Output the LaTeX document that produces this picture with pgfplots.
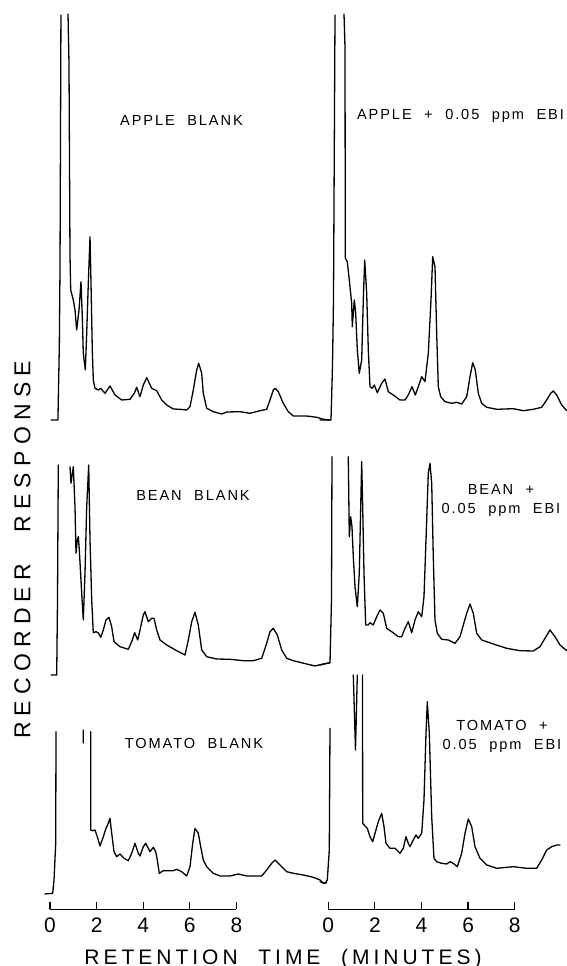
\documentclass[border=0pt]{standalone}
\usepackage{fontspec}
\setmainfont{Liberation Sans}
\newfontfamily\lblfont[LetterSpace=13,WordSpace=2.1]{Liberation Sans}
\newfontfamily\xlabfont[LetterSpace=19,WordSpace=2.1]{Liberation Sans}
\newfontfamily\ylabfont[LetterSpace=27,WordSpace=2.5]{Liberation Sans}
\usepackage{pgfplots}
\pgfplotsset{compat=1.18}

% x: retention time (min), y: recorder response (traces stacked with an offset)
\pgfplotsset{
  chrom/.style={
    x=11.65pt, y=0.5pt, ymin=56.5, ymax=966, anchor=south west,
    axis x line*=bottom, axis y line=none, x axis line style={draw=none},
    xtick={0,2,4,6,8}, xticklabels={0,2,4,6,8}, ytick=\empty,
    xtick align=inside, major tick length=3.5pt,
    tick style={black, line width=0.6pt},
    xticklabel style={font=\fontsize{10.5}{12}\selectfont, anchor=center, yshift=-8pt},
    clip=false, unbounded coords=jump,
  },
  trace/.style={black, line width=0.65pt, line join=round, line cap=round, mark=none},
}
\tikzset{lbl/.style={font=\lblfont\fontsize{7.3}{9.5}\selectfont, align=center, inner sep=0pt}}

\begin{document}
\begin{tikzpicture}
% ---------------- left column: blanks ----------------
\begin{axis}[chrom, name=L, at={(0pt,28.25pt)}, xmin=-2.146, xmax=12.06]
% scale bar
\addplot[black, line width=0.6pt] coordinates {(0,56.5) (8,56.5)};
% apple blank
\addplot[trace] coordinates {
(0.04,546) (0.34,546) (0.40,620) (0.43,700) (0.47,951) (0.6,nan)
(0.773,952) (0.815,903) (0.858,711) (0.888,676) (1.0,666) (1.073,656) (1.146,636)
(1.245,656) (1.330,684.3) (1.386,649.3) (1.429,612.7) (1.515,596) (1.575,632.7)
(1.644,682.7) (1.717,729.3) (1.760,682.7) (1.815,616) (1.858,586) (1.931,577.7)
(2.073,576) (2.176,577.7) (2.361,572.7) (2.575,580) (2.790,571) (3.077,566)
(3.433,566.7) (3.618,572.7) (3.721,578.7) (3.863,569.3) (4.004,581) (4.150,588.3)
(4.365,577.7) (4.579,575.3) (4.794,566) (5.009,561) (5.292,557) (5.579,556.7)
(5.867,556) (6.009,559.3) (6.150,576) (6.296,596) (6.382,602.7) (6.511,592.7)
(6.579,572.7) (6.725,557.7) (7.009,554.3) (7.369,552) (7.584,554) (8.155,554.3)
(8.584,552.7) (9.013,555.3) (9.300,556.7) (9.442,566) (9.584,576) (9.670,577.7)
(9.798,574.3) (10.013,562.7) (10.227,554.3) (10.442,550) (11.017,550)
(11.446,548.7) (11.730,546.7) (12.017,546)};
% bean blank
\addplot[trace] coordinates {
(0.043,291) (0.288,291) (0.322,366) (0.356,501) (0.6,nan)
(0.858,499.3) (0.901,482.7) (1.0,499.3) (1.073,459.3) (1.116,412.7) (1.172,426)
(1.215,429.3) (1.258,416) (1.361,372.7) (1.429,346) (1.502,392.7) (1.575,459.3)
(1.661,501) (1.717,426) (1.790,366) (1.858,333.3) (1.974,334.3) (2.073,333.3)
(2.176,328.7) (2.288,336) (2.403,346) (2.532,348.7) (2.648,339.3) (2.747,324.3)
(3.004,319.3) (3.361,316.7) (3.506,324.3) (3.635,333.3) (3.764,326) (3.863,336)
(4.004,351) (4.077,354.3) (4.219,344.3) (4.365,347.7) (4.464,347.7) (4.579,336)
(4.721,326) (5.009,321) (5.438,315.3) (5.794,311) (5.936,326) (6.082,344.3)
(6.223,353.7) (6.365,341) (6.511,316) (6.725,309.3) (7.155,307) (7.725,306.7)
(8.296,305.3) (8.725,305.3) (9.086,307.7) (9.300,322.7) (9.442,334.3)
(9.584,337.7) (9.756,331) (9.944,316) (10.159,307.7) (10.442,305.3) (11.017,302)
(11.373,300) (11.730,302) (12.017,303.3)};
% tomato blank
\addplot[trace] coordinates {
(-0.215,72) (0.116,72.7) (0.172,86) (0.245,122.7) (0.258,234.3) (0.5,nan)
(1.425,236) (1.43,223) (1.6,nan)
(1.747,234.3) (1.747,136) (1.833,135.3) (1.931,136) (2.030,129.3) (2.146,120)
(2.288,129.3) (2.403,137.7) (2.502,142.7) (2.575,147.7) (2.648,132.7)
(2.747,114.3) (2.863,109.3) (3.004,112) (3.176,107.7) (3.361,105.3) (3.506,112.7)
(3.648,122.7) (3.790,112.7) (3.863,110) (4.004,119.3) (4.107,122.7) (4.219,117.7)
(4.292,114.3) (4.433,118.7) (4.536,114.3) (4.605,106) (4.691,92.7) (4.863,95.3)
(5.077,95.3) (5.292,95.3) (5.438,96.7) (5.652,94.3) (5.867,90) (6.009,99.3)
(6.124,122.7) (6.223,137.7) (6.365,132.7) (6.468,119.3) (6.579,106) (6.725,99.3)
(7.009,92.7) (7.296,90) (7.725,90) (8.082,92) (8.442,90) (9.086,90) (9.300,96)
(9.515,102.7) (9.657,106) (9.871,101) (10.159,94.3) (10.442,92.7) (10.871,91)
(11.300,88.7) (11.588,86) (11.730,82.7) (11.876,83.3)};
\node[lbl] at (axis cs:5.644,845.5) {APPLE BLANK};
\node[lbl] at (axis cs:6.137,471) {BEAN BLANK};
\node[lbl] at (axis cs:6.180,223) {TOMATO BLANK};
\end{axis}

% ---------------- right column: fortified with 0.05 ppm EBI ----------------
\begin{axis}[chrom, name=R, at={(159pt,28.25pt)}, xmin=-0.442, xmax=10.245]
\addplot[black, line width=0.6pt] coordinates {(0,56.5) (8,56.5)};
% apple + EBI
\addplot[trace] coordinates {
(-0.356,546) (0.116,546) (0.18,600) (0.223,666) (0.288,951) (0.5,nan)
(0.674,952) (0.717,919) (0.730,708) (0.815,704.3) (0.901,686) (1.004,662.7)
(1.030,639.3) (1.116,666) (1.176,652.7) (1.245,616) (1.330,592.7) (1.433,606)
(1.502,666) (1.562,706) (1.648,672.7) (1.717,616) (1.790,579.3) (1.888,577.7)
(1.974,581) (2.103,573.3) (2.292,582.7) (2.433,587) (2.575,574.3) (2.790,571)
(3.077,566) (3.292,566) (3.433,571) (3.592,579.3) (3.734,571) (3.863,579.3)
(4.009,589.3) (4.150,584.3) (4.292,612.7) (4.408,666) (4.481,709.3) (4.579,699.3)
(4.652,632.7) (4.721,579.3) (4.824,569.3) (5.009,564.3) (5.296,562.7)
(5.511,563.7) (5.725,562) (5.940,569.3) (6.082,589.3) (6.197,603.3) (6.309,596)
(6.438,572.7) (6.584,562.7) (6.798,558.7) (7.227,556.7) (7.940,557.3)
(8.369,555.3) (8.798,556.7) (9.159,558.7) (9.373,566) (9.545,572.7) (9.657,575)
(9.803,571) (10.017,561) (10.232,555.3)};
% bean + EBI
\addplot[trace] coordinates {
(-0.356,301) (0.073,303.3) (0.137,366) (0.159,509.3) (0.5,nan)
(0.858,509.3) (0.901,429.3) (0.961,449.3) (1.017,439.3) (1.073,409.3)
(1.146,379.3) (1.245,359.3) (1.330,392.7) (1.391,459.3) (1.433,504.3)
(1.476,459.3) (1.532,392.7) (1.605,341) (1.717,341) (1.790,343.3) (1.931,341)
(2.077,349.3) (2.219,356) (2.361,352.7) (2.506,337.7) (2.721,334.3) (3.004,329.3)
(3.150,329.3) (3.292,337.7) (3.433,344.3) (3.579,333.3) (3.721,346) (3.863,354.3)
(4.009,349.3) (4.107,369.3) (4.193,426) (4.292,492.7) (4.365,502.7) (4.438,482.7)
(4.506,409.3) (4.579,346) (4.678,332.7) (4.867,326.7) (5.150,326) (5.438,322.7)
(5.652,329.3) (5.940,352.7) (6.082,362) (6.223,352.7) (6.369,332.7) (6.584,326)
(7.082,322) (7.657,317.7) (8.227,315.3) (8.798,315) (9.086,319.3) (9.300,327.7)
(9.515,336) (9.730,329.3) (9.944,321) (10.232,315.3)};
% tomato + EBI
\addplot[trace] coordinates {
(-0.356,84.3) (-0.142,82.7) (-0.043,86) (0.043,116) (0.073,237.7) (0.5,nan)
(1.073,291) (1.167,216) (1.245,291) (1.35,nan)
(1.468,291) (1.476,142.7) (1.575,140) (1.674,137.7) (1.790,129.3) (1.906,124.3)
(2.004,132.7) (2.146,144.3) (2.292,152.7) (2.391,139.3) (2.476,122.7)
(2.648,117.7) (2.863,117.7) (3.077,112.7) (3.219,117.7) (3.335,129.3)
(3.433,122.7) (3.506,119.3) (3.648,126) (3.764,131) (3.863,127.7) (4.009,132.7)
(4.107,166) (4.193,232.7) (4.249,264.3) (4.335,232.7) (4.438,149.3) (4.536,107.7)
(4.652,104.3) (4.867,102.7) (5.082,102) (5.223,104.3) (5.365,102.7) (5.536,99.3)
(5.725,112.7) (5.867,132.7) (6.009,147) (6.155,139.3) (6.296,119.3) (6.511,107.7)
(6.798,101) (7.227,97.7) (7.940,99.3) (8.515,97.7) (8.944,97.7) (9.159,106)
(9.373,116) (9.588,119.3) (9.803,121) (9.944,121)};
\node[lbl] at (axis cs:5.674,850) {APPLE + 0.05 ppm EBI};
\node[lbl] at (axis cs:7.412,465.5) {BEAN +\\0.05 ppm EBI};
\node[lbl] at (axis cs:7.455,230) {TOMATO +\\0.05 ppm EBI};
\end{axis}

\node[anchor=base, inner sep=0pt, font=\xlabfont\fontsize{10.5}{12}\selectfont]
  at (141.5pt,1pt) {RETENTION TIME (MINUTES)};
\node[rotate=90, inner sep=0pt, font=\ylabfont\fontsize{11.5}{13}\selectfont]
  at (11.25pt,208pt) {RECORDER RESPONSE};
\pgfresetboundingbox
\useasboundingbox (0pt,0pt) rectangle (283.5pt,483pt);
\end{tikzpicture}
\end{document}
